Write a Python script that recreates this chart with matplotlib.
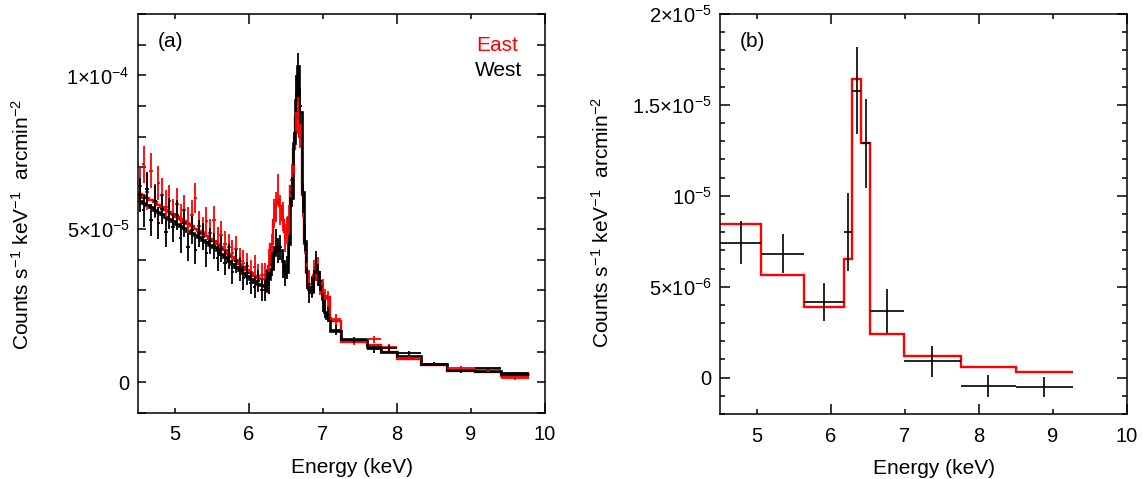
import matplotlib
matplotlib.use("Agg")
import matplotlib.pyplot as plt
import numpy as np

plt.rcParams['font.family'] = ['Liberation Sans', 'DejaVu Sans']
plt.rcParams['mathtext.fontset'] = 'custom'
plt.rcParams['mathtext.rm'] = 'Liberation Sans'
plt.rcParams['mathtext.it'] = 'Liberation Sans:italic'
plt.rcParams['mathtext.default'] = 'regular'

# ---------------- Panel (a) data (units of 1e-5) ----------------
edges_low = [4.50, 4.55, 4.60, 4.65, 4.70, 4.75, 4.80, 4.85, 4.90, 4.95,
             5.00, 5.05, 5.10, 5.15, 5.20, 5.25, 5.30, 5.35, 5.40, 5.45,
             5.50, 5.55, 5.60, 5.65, 5.70, 5.75, 5.80, 5.85, 5.90, 5.95,
             6.00, 6.05, 6.10, 6.15, 6.20]
edges_line = [6.20, 6.23, 6.26, 6.29, 6.32, 6.35, 6.38, 6.41, 6.44, 6.47,
              6.50, 6.53, 6.56, 6.59, 6.62, 6.65, 6.68, 6.71, 6.74, 6.77,
              6.80, 6.83, 6.86, 6.89, 6.92, 6.95, 6.98, 7.01, 7.04]
edges_high = [7.04, 7.10, 7.24, 7.60, 7.78, 8.00, 8.32, 8.68, 9.05, 9.41, 9.79]

west_model_low = [5.92, 5.85, 5.77, 5.70, 5.62, 5.55, 5.47, 5.40, 5.32, 5.25,
                  5.17, 5.10, 5.02, 4.94, 4.87, 4.79, 4.72, 4.64, 4.56, 4.48,
                  4.40, 4.30, 4.19, 4.07, 3.95, 3.85, 3.75, 3.65, 3.55, 3.45,
                  3.36, 3.28, 3.21, 3.16]
west_data_low = [6.10, 5.60, 6.30, 5.30, 5.90, 5.20, 5.65, 4.90, 5.50, 5.05,
                 5.45, 4.70, 5.20, 4.40, 4.95, 4.30, 4.85, 4.75, 4.20, 4.60,
                 4.45, 4.05, 4.35, 3.90, 4.10, 3.60, 3.95, 3.70, 3.40, 3.55,
                 3.25, 3.10, 3.30, 3.00]
west_err_low = [0.55, 0.55, 0.55, 0.52, 0.52, 0.52, 0.50, 0.50, 0.50, 0.48,
                0.48, 0.48, 0.46, 0.46, 0.46, 0.45, 0.45, 0.44, 0.44, 0.43,
                0.43, 0.42, 0.42, 0.41, 0.41, 0.40, 0.40, 0.39, 0.38, 0.38,
                0.37, 0.36, 0.36, 0.35]
east_model_low = [6.15, 6.08, 6.00, 5.93, 5.86, 5.78, 5.70, 5.62, 5.55, 5.47,
                  5.40, 5.32, 5.24, 5.16, 5.08, 5.00, 4.92, 4.84, 4.76, 4.68,
                  4.59, 4.50, 4.40, 4.30, 4.19, 4.08, 3.97, 3.86, 3.75, 3.65,
                  3.55, 3.47, 3.40, 3.35]
east_data_low = [6.40, 7.10, 6.20, 6.90, 5.90, 6.50, 6.10, 5.70, 5.90, 5.45,
                 5.80, 5.30, 5.60, 5.20, 5.45, 6.00, 5.10, 4.90, 5.25, 4.85,
                 5.30, 4.60, 4.80, 4.50, 4.40, 4.20, 4.35, 3.95, 3.90, 3.80,
                 3.60, 3.75, 3.45, 3.50]
east_err_low = [0.60, 0.60, 0.58, 0.58, 0.56, 0.56, 0.55, 0.55, 0.53, 0.53,
                0.52, 0.52, 0.50, 0.50, 0.49, 0.49, 0.48, 0.48, 0.47, 0.46,
                0.46, 0.45, 0.45, 0.44, 0.43, 0.43, 0.42, 0.41, 0.41, 0.40,
                0.40, 0.39, 0.39, 0.38]

west_model_line = [3.15, 3.20, 3.35, 3.70, 4.15, 4.40, 4.45, 4.30, 3.95, 3.55,
                   3.60, 4.50, 6.00, 7.80, 9.20, 10.30, 8.80, 6.20, 4.60, 3.60,
                   3.05, 2.95, 3.35, 3.75, 3.60, 3.20, 2.70, 2.30]
west_data_line = [3.00, 3.30, 3.25, 3.85, 4.05, 4.60, 4.30, 4.40, 3.80, 3.50,
                  3.75, 4.40, 6.20, 7.60, 9.40, 10.10, 9.00, 6.00, 4.70, 3.40,
                  2.90, 3.10, 3.30, 3.90, 3.50, 3.30, 2.60, 2.40]
west_err_line = [0.35, 0.35, 0.36, 0.38, 0.40, 0.41, 0.41, 0.40, 0.39, 0.37,
                 0.37, 0.41, 0.48, 0.55, 0.60, 0.62, 0.58, 0.48, 0.41, 0.36,
                 0.33, 0.33, 0.35, 0.37, 0.36, 0.34, 0.31, 0.29]
east_model_line = [3.35, 3.45, 3.80, 4.50, 5.30, 5.80, 5.95, 5.75, 5.30, 4.90,
                   4.80, 5.40, 6.40, 7.60, 8.60, 8.90, 8.00, 6.10, 4.50, 3.60,
                   3.20, 3.20, 3.50, 3.75, 3.60, 3.30, 2.90, 2.80]
east_data_line = [3.50, 3.30, 3.95, 4.40, 5.50, 5.70, 6.30, 5.60, 5.40, 4.70,
                  4.95, 5.30, 6.60, 7.40, 8.80, 8.70, 8.20, 5.90, 4.60, 3.50,
                  3.30, 3.10, 3.60, 3.70, 3.70, 3.20, 3.00, 2.70]
east_err_line = [0.38, 0.38, 0.40, 0.43, 0.47, 0.49, 0.50, 0.49, 0.47, 0.45,
                 0.45, 0.48, 0.52, 0.57, 0.60, 0.61, 0.58, 0.50, 0.43, 0.39,
                 0.36, 0.36, 0.38, 0.39, 0.38, 0.37, 0.35, 0.34]

west_model_high = [2.10, 1.67, 1.40, 1.14, 0.98, 0.86, 0.59, 0.39, 0.36, 0.26]
west_data_high = [2.20, 1.70, 1.38, 1.07, 1.12, 0.94, 0.59, 0.37, 0.45, 0.29]
west_err_high = [0.25, 0.16, 0.09, 0.11, 0.10, 0.07, 0.06, 0.06, 0.06, 0.06]
east_model_high = [2.77, 2.00, 1.30, 1.20, 1.00, 0.77, 0.55, 0.37, 0.32, 0.20]
east_data_high = [2.70, 2.05, 1.30, 1.40, 1.14, 0.80, 0.60, 0.45, 0.42, 0.15]
east_err_high = [0.28, 0.18, 0.10, 0.12, 0.11, 0.08, 0.07, 0.07, 0.07, 0.07]

# ---------------- Panel (b) data (units of 1e-6) ----------------
edges_b = [4.50, 5.06, 5.63, 6.17, 6.29, 6.41, 6.53, 6.99, 7.75, 8.50, 9.27]
model_b = [8.44, 5.66, 3.88, 6.54, 16.43, 12.93, 2.40, 1.17, 0.59, 0.29]
data_b = [7.42, 6.81, 4.16, 8.00, 15.79, 12.90, 3.68, 0.90, -0.44, -0.51]
err_b = [1.18, 1.07, 1.05, 2.15, 2.40, 2.45, 1.20, 0.85, 0.60, 0.55]

xtick_major = [6, 8, 10]
xtick_minor = [5, 7, 9]
yticks_a = [0, 5e-5, 1e-4]
yticklabels_a = ["0", r"$5{\times}10^{-5}$", r"$1{\times}10^{-4}$"]
yticks_b = [0, 5e-6, 1e-5, 1.5e-5, 2e-5]
yticklabels_b = ["0", r"$5{\times}10^{-6}$", r"$10^{-5}$", r"$1.5{\times}10^{-5}$", r"$2{\times}10^{-5}$"]

ylabel = r"Counts s$^{-1}$ keV$^{-1}$  arcmin$^{-2}$"

RED = "#ff0000"
FS_TICK = 14.5
FS_LAB = 15

fig = plt.figure(figsize=(11.42, 4.79), dpi=100)
ax1 = fig.add_axes([138/1142, 66/479, 407/1142, 399/479])
ax2 = fig.add_axes([720/1142, 65/479, 407/1142, 400/479])


def style_axes(ax):
    for s in ax.spines.values():
        s.set_linewidth(1.1)
    ax.set_xlim(4.5, 10)
    ax.set_xticks(xtick_major)
    ax.set_xticklabels([str(v) for v in xtick_major])
    ax.set_xticks(xtick_minor, minor=True)
    ax.set_xticklabels([str(v) for v in xtick_minor], minor=True)
    ax.tick_params(axis='both', which='both', direction='in', top=True, right=True,
                   labelsize=FS_TICK, width=1.1)
    ax.tick_params(axis='x', which='both', pad=9)
    ax.tick_params(axis='x', which='major', length=7)
    ax.tick_params(axis='x', which='minor', length=3.5)
    ax.tick_params(axis='y', which='both', pad=6)
    ax.set_xlabel("Energy (keV)", fontsize=FS_LAB)
    ax.xaxis.set_label_coords(0.525, -0.112)
    ax.set_ylabel(ylabel, fontsize=FS_LAB)


def draw_series(ax, el, eline, eh, m1, d1, e1, m2, d2, e2, m3, d3, e3, color, lw):
    edges = np.array(el + eline[1:] + eh[1:])
    model = np.array(m1 + m2 + m3) * 1e-5
    data = np.array(d1 + d2 + d3) * 1e-5
    err = np.array(e1 + e2 + e3) * 1e-5
    cen = 0.5 * (edges[:-1] + edges[1:])
    hw = 0.5 * (edges[1:] - edges[:-1])
    ax.errorbar(cen, data, xerr=hw, yerr=err, fmt='none', ecolor=color,
                elinewidth=1.3, capsize=0)
    ax.stairs(model, edges, color=color, linewidth=lw, baseline=None)


# Panel (a)
style_axes(ax1)
draw_series(ax1, edges_low, edges_line, edges_high,
            east_model_low, east_data_low, east_err_low,
            east_model_line, east_data_line, east_err_line,
            east_model_high, east_data_high, east_err_high, RED, 1.7)
draw_series(ax1, edges_low, edges_line, edges_high,
            west_model_low, west_data_low, west_err_low,
            west_model_line, west_data_line, west_err_line,
            west_model_high, west_data_high, west_err_high, "black", 1.9)
ax1.set_ylim(-1e-5, 1.2e-4)
ax1.set_yticks(yticks_a)
ax1.set_yticklabels(yticklabels_a)
ax1.set_yticks(np.arange(-1e-5, 1.21e-4, 1e-5), minor=True)
ax1.tick_params(axis='y', which='both', length=6)
ax1.yaxis.set_label_coords(-0.258, 0.474)
ax1.text(0.079, 0.932, "(a)", transform=ax1.transAxes, fontsize=FS_LAB,
         ha='center', va='center')
ax1.text(0.934, 0.922, "East", transform=ax1.transAxes, fontsize=FS_LAB,
         ha='right', va='center', color=RED)
ax1.text(0.943, 0.858, "West", transform=ax1.transAxes, fontsize=FS_LAB,
         ha='right', va='center', color='black')

# Panel (b)
style_axes(ax2)
eb = np.array(edges_b)
cb = 0.5 * (eb[:-1] + eb[1:])
hb = 0.5 * (eb[1:] - eb[:-1])
ax2.errorbar(cb, np.array(data_b) * 1e-6, xerr=hb, yerr=np.array(err_b) * 1e-6,
             fmt='none', ecolor='black', elinewidth=1.2, capsize=0)
ax2.stairs(np.array(model_b) * 1e-6, eb, color=RED, linewidth=1.7, baseline=None)
ax2.set_ylim(-2e-6, 2e-5)
ax2.set_yticks(yticks_b)
ax2.set_yticklabels(yticklabels_b)
ax2.set_yticks(np.arange(-2e-6, 2.01e-5, 1e-6), minor=True)
ax2.tick_params(axis='y', which='major', length=7)
ax2.tick_params(axis='y', which='minor', length=3.5)
ax2.yaxis.set_label_coords(-0.263, 0.48)
ax2.text(0.079, 0.932, "(b)", transform=ax2.transAxes, fontsize=FS_LAB,
         ha='center', va='center')

fig.savefig("out.png", dpi=100)
